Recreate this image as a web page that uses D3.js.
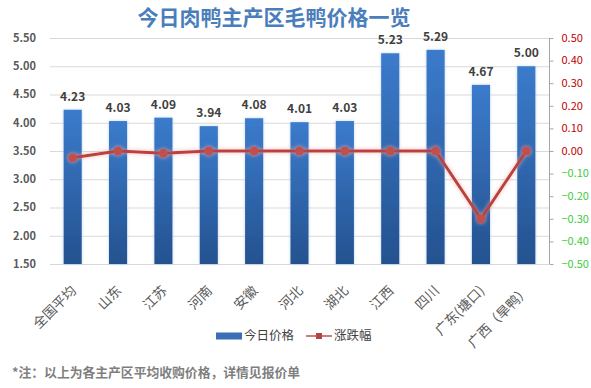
<!DOCTYPE html>
<html lang="zh">
<head>
<meta charset="UTF-8">
<title>今日肉鸭主产区毛鸭价格一览</title>
<script src="https://d3js.org/d3.v7.min.js"></script>
<style>
  body, html { margin: 0; background: #fff; }
  svg { display: block; font-family: "Noto Sans CJK SC", "Noto Sans", sans-serif; }
  .grid line { stroke: #d9d9d9; stroke-width: 1; }
  .tick-l { fill: #595959; font-size: 11px; font-weight: bold; }
  .tick-r { font-size: 11px; }
</style>
</head>
<body>
<script>
const regions = ["全国平均", "山东", "江苏", "河南", "安徽", "河北", "湖北", "江西", "四川", "广东(塘口)", "广西（旱鸭）"];
const prices  = [4.23, 4.03, 4.09, 3.94, 4.08, 4.01, 4.03, 5.23, 5.29, 4.67, 5.00];
const changes = [-0.03, 0.00, -0.01, 0.00, 0.00, 0.00, 0.00, 0.00, 0.00, -0.30, 0.00];
const leftTicks  = [1.5, 2.0, 2.5, 3.0, 3.5, 4.0, 4.5, 5.0, 5.5];
const rightTicks = [-0.5, -0.4, -0.3, -0.2, -0.1, 0, 0.1, 0.2, 0.3, 0.4, 0.5];

const width = 591, height = 388;
const m = { left: 50, right: 42, top: 38, bottom: 124 };

const svg = d3.select("body").append("svg")
    .attr("width", width).attr("height", height);

const defs = svg.append("defs");
const grad = defs.append("linearGradient").attr("id", "barGrad")
    .attr("x1", 0).attr("y1", 0).attr("x2", 0).attr("y2", 1);
grad.append("stop").attr("offset", "0%").attr("stop-color", "#3b7bcc");
grad.append("stop").attr("offset", "100%").attr("stop-color", "#24528f");

const glow = defs.append("filter").attr("id", "glow")
    .attr("x", "-50%").attr("y", "-50%").attr("width", "200%").attr("height", "200%");
glow.append("feGaussianBlur").attr("in", "SourceAlpha").attr("stdDeviation", 1.5).attr("result", "b");
glow.append("feFlood").attr("flood-color", "#9dc3ef").attr("flood-opacity", 0.7);
glow.append("feComposite").attr("in2", "b").attr("operator", "in").attr("result", "g");
const mg = glow.append("feMerge");
mg.append("feMergeNode").attr("in", "g");
mg.append("feMergeNode").attr("in", "SourceGraphic");

const redGlow = defs.append("filter").attr("id", "redGlow")
    .attr("x", "-20%").attr("y", "-50%").attr("width", "140%").attr("height", "200%");
redGlow.append("feGaussianBlur").attr("in", "SourceAlpha").attr("stdDeviation", 2).attr("result", "b");
redGlow.append("feFlood").attr("flood-color", "#f2a8a6").attr("flood-opacity", 0.85);
redGlow.append("feComposite").attr("in2", "b").attr("operator", "in").attr("result", "g");
const mr = redGlow.append("feMerge");
mr.append("feMergeNode").attr("in", "g");
mr.append("feMergeNode").attr("in", "SourceGraphic");

const x = d3.scaleBand().domain(regions)
    .range([m.left, width - m.right]).paddingInner(0.6).paddingOuter(0.3);
const yL = d3.scaleLinear().domain([1.5, 5.5]).range([height - m.bottom, m.top]);
const yR = d3.scaleLinear().domain([-0.5, 0.5]).range([height - m.bottom, m.top]);

// title
svg.append("text")
    .attr("x", 274).attr("y", 25)
    .attr("text-anchor", "middle")
    .attr("fill", "#4a7ebb")
    .attr("font-size", 21).attr("font-weight", "bold")
    .text("今日肉鸭主产区毛鸭价格一览");

// gridlines
svg.append("g").attr("class", "grid")
  .selectAll("line").data(leftTicks).join("line")
    .attr("x1", m.left).attr("x2", width - m.right)
    .attr("y1", d => yL(d) + 0.5).attr("y2", d => yL(d) + 0.5);

// left axis labels
svg.append("g").selectAll("text").data(leftTicks).join("text")
    .attr("class", "tick-l")
    .attr("x", 36).attr("y", d => yL(d))
    .attr("dy", "0.35em").attr("text-anchor", "end")
    .text(d => d3.format(".2f")(d));

// right axis
const rAxis = svg.append("g").attr("transform", `translate(${width - m.right + 0.5},0)`);
rAxis.append("line").attr("y1", yR(0.5)).attr("y2", yR(-0.5)).attr("stroke", "#a6a6a6");
rAxis.selectAll("line.t").data(rightTicks).join("line").attr("class", "t")
    .attr("x1", 0).attr("x2", 4)
    .attr("y1", d => yR(d) + 0.5).attr("y2", d => yR(d) + 0.5)
    .attr("stroke", "#a6a6a6");
rAxis.selectAll("text").data(rightTicks).join("text")
    .attr("class", "tick-r")
    .attr("x", 12).attr("y", d => yR(d))
    .attr("dy", "0.35em")
    .attr("fill", d => d < 0 ? "#3ccb3c" : "#c00000")
    .text(d => d3.format(".2f")(d));

// bars
svg.append("g").selectAll("rect").data(prices).join("rect")
    .attr("x", (d, i) => x(regions[i]))
    .attr("width", x.bandwidth())
    .attr("y", d => yL(d))
    .attr("height", d => yL(1.5) - yL(d))
    .attr("fill", "url(#barGrad)")
    .attr("filter", "url(#glow)");

// bar labels
svg.append("g").selectAll("text").data(prices).join("text")
    .attr("x", (d, i) => x(regions[i]) + x.bandwidth() / 2)
    .attr("y", d => yL(d) - 9)
    .attr("text-anchor", "middle")
    .attr("fill", "#404040")
    .attr("font-size", 12).attr("font-weight", "bold")
    .text(d => d3.format(".2f")(d));

// change line
const line = d3.line()
    .x((d, i) => x(regions[i]) + x.bandwidth() / 2)
    .y(d => yR(d));
const lg = svg.append("g").attr("filter", "url(#redGlow)");
lg.append("path").datum(changes)
    .attr("d", line)
    .attr("fill", "none")
    .attr("stroke", "#b94341")
    .attr("stroke-width", 3);
lg.selectAll("circle").data(changes).join("circle")
    .attr("cx", (d, i) => x(regions[i]) + x.bandwidth() / 2)
    .attr("cy", d => yR(d))
    .attr("r", 4.5)
    .attr("fill", "#c0504d");

// x labels
svg.append("g").selectAll("text").data(regions).join("text")
    .attr("transform", d => `translate(${x(d) + x.bandwidth() / 2 + 1},${height - m.bottom + 24}) rotate(-45)`)
    .attr("text-anchor", "end")
    .attr("dy", "0.35em")
    .attr("fill", "#595959")
    .attr("font-size", 13.5)
    .text(d => d);

// legend
const leg = svg.append("g").attr("transform", "translate(0,336)");
leg.append("rect").attr("x", 216).attr("y", -3.5).attr("width", 26).attr("height", 7).attr("fill", "#3a6fb5");
leg.append("text").attr("x", 244).attr("y", 0).attr("dy", "0.35em")
    .attr("font-size", 12.5).attr("fill", "#404040").text("今日价格");
leg.append("line").attr("x1", 306).attr("x2", 332).attr("y1", 0).attr("y2", 0)
    .attr("stroke", "#c0504d").attr("stroke-width", 1.5);
leg.append("rect").attr("x", 316).attr("y", -3).attr("width", 6).attr("height", 6).attr("fill", "#b94341");
leg.append("text").attr("x", 334).attr("y", 0).attr("dy", "0.35em")
    .attr("font-size", 12.5).attr("fill", "#404040").text("涨跌幅");

// footnote
svg.append("text")
    .attr("x", 12).attr("y", 377)
    .attr("fill", "#7f7f7f")
    .attr("font-size", 12.8).attr("font-weight", "bold")
    .text("*注：以上为各主产区平均收购价格，详情见报价单");
</script>
</body>
</html>
